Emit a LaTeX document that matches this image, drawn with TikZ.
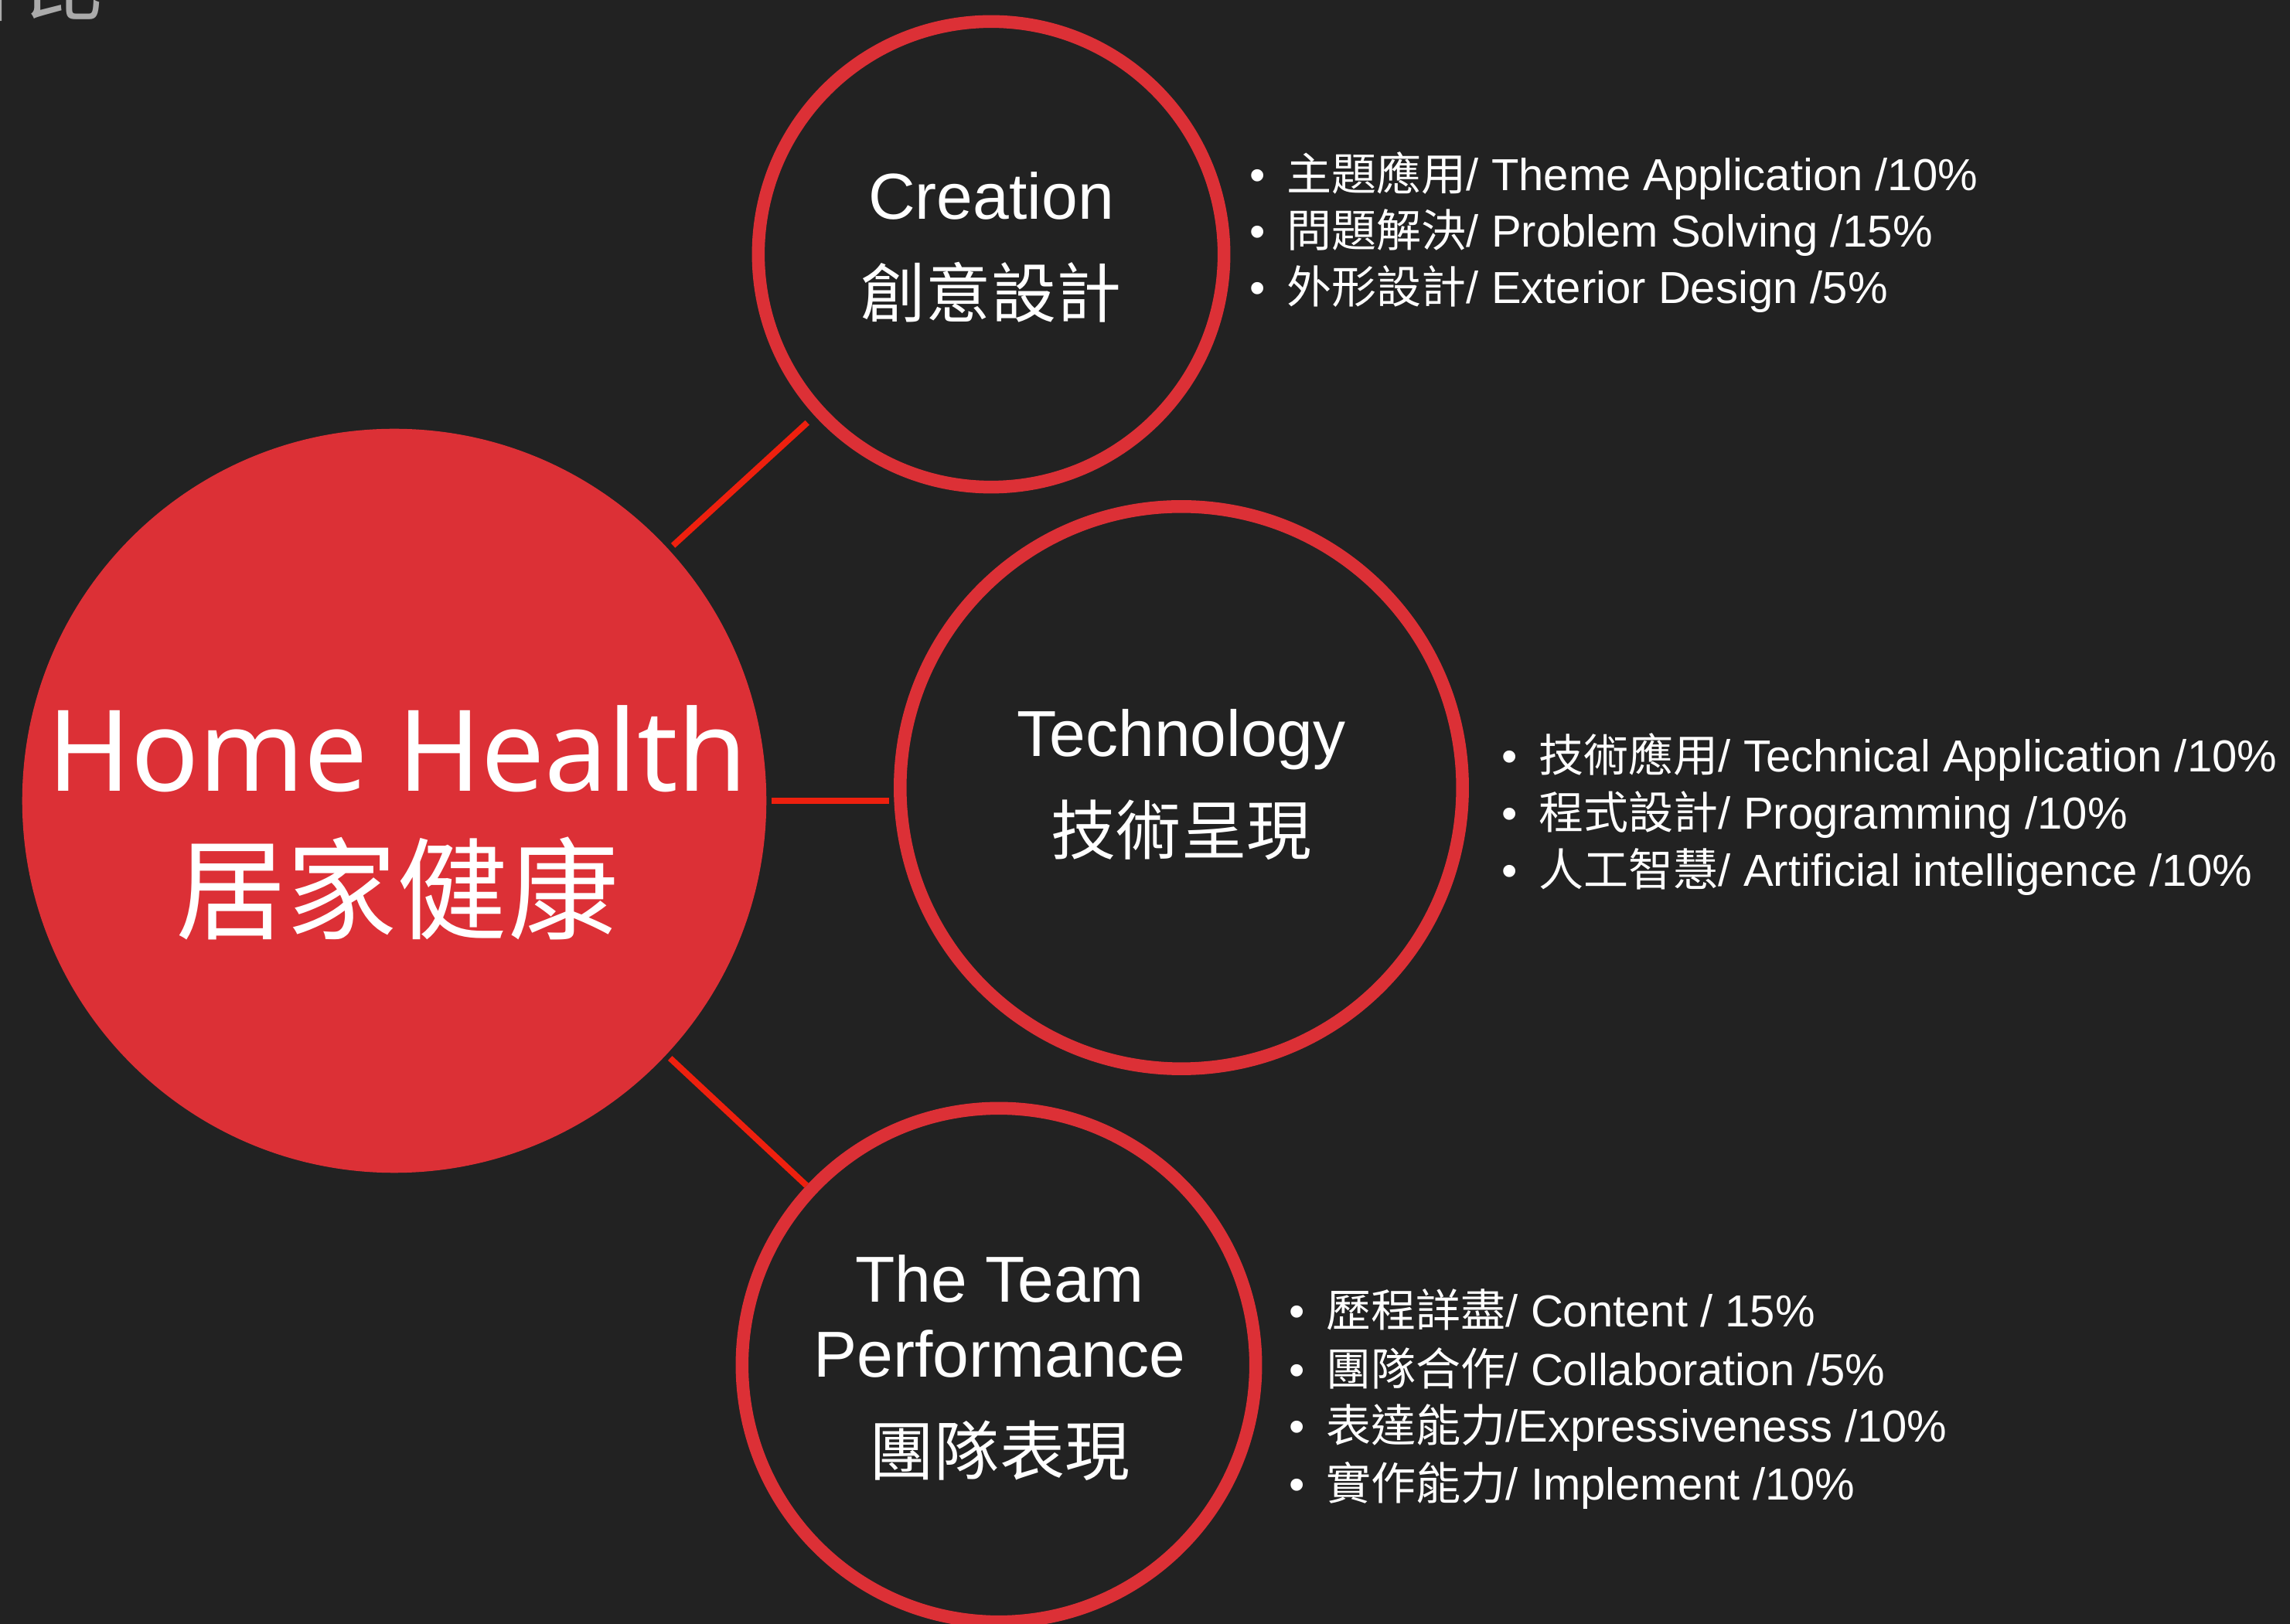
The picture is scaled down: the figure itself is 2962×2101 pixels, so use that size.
\documentclass[tikz,border=0pt]{standalone}
\usepackage{fontspec}
\setmainfont{Liberation Sans}
\newfontfamily\cjk{Noto Sans CJK TC}
\newfontfamily\homefont{Noto Sans}
\definecolor{slidebg}{RGB}{34,34,34}
\definecolor{ringred}{RGB}{220,48,54}
\definecolor{linkred}{RGB}{238,32,14}
\definecolor{titlegray}{RGB}{170,170,170}
\newcommand{\listdot}{\makebox[0.48cm][l]{\textbullet}}

\begin{document}
\begin{tikzpicture}[x=0.01cm, y=-0.01cm,
        ring/.style={circle, draw=ringred, line width=0.165cm, inner sep=0pt},
        link/.style={linkred, line width=0.08cm},
        ringtext/.style={white, align=center, inner sep=0pt, font=\fontsize{23.9}{27.6}\selectfont},
        item/.style={white, anchor=base west, inner sep=0pt, font=\fontsize{16.5}{19}\selectfont}]
    \useasboundingbox (0,0) rectangle (2962,2101);
    \clip (0,0) rectangle (2962,2101);
    \fill[slidebg] (0,0) rectangle (2962,2101);

    \node[titlegray, anchor=base west, inner sep=0pt, font=\cjk\fontsize{29}{30}\selectfont] (title) at (-72,20) {評比};

    \node[circle, fill=ringred, minimum size=9.62cm, inner sep=0pt] (home) at (510,1036) {};
    \node[ring, minimum size=6.02cm] (creation) at (1282,329) {};
    \node[ring, minimum size=7.27cm] (tech) at (1528,1019) {};
    \node[ring, minimum size=6.64cm] (team) at (1292,1766) {};

    \node[white, align=center, inner sep=0pt, font=\homefont\fontsize{41.5}{51.5}\selectfont] (hometext) at (514,1064) {Home Health\\{\cjk\fontsize{40.7}{51.5}\selectfont 居家健康}};
    \node[ringtext] (creationtext) at (1282,320) {Creation\\[0.3cm]{\cjk 創意設計}};
    \node[ringtext] (techtext) at (1528,1015) {Technology\\[0.3cm]{\cjk 技術呈現}};
    \node[ringtext] (teamtext) at (1293,1770) {The Team\\Performance\\[0.3cm]{\cjk 團隊表現}};

    \draw[link, shorten <=0.07cm, shorten >=0.13cm] (home) -- (creation);
    \draw[link, shorten <=0.06cm, shorten >=0.06cm] (home.east) -- (home.east -| tech.west);
    \draw[link, shorten <=0.06cm] (home) -- (team);

    \node[item] (crea1) at (1616,247) {\listdot{\cjk 主題應用}/ Theme Application /10\%};
    \node[item] (crea2) at (1616,320) {\listdot{\cjk 問題解決}/ Problem Solving /15\%};
    \node[item] (crea3) at (1616,393) {\listdot{\cjk 外形設計}/ Exterior Design /5\%};

    \node[item] (tech1) at (1942,999) {\listdot{\cjk 技術應用}/ Technical Application /10\%};
    \node[item] (tech2) at (1942,1073) {\listdot{\cjk 程式設計}/ Programming /10\%};
    \node[item] (tech3) at (1942,1147) {\listdot{\cjk 人工智慧}/ Artificial intelligence /10\%};

    \node[item] (team1) at (1667,1717) {\listdot{\cjk 歷程詳盡}/ Content / 15\%};
    \node[item] (team2) at (1667,1792) {\listdot{\cjk 團隊合作}/ Collaboration /5\%};
    \node[item] (team3) at (1667,1866) {\listdot{\cjk 表達能力}/Expressiveness /10\%};
    \node[item] (team4) at (1667,1940) {\listdot{\cjk 實作能力}/ Implement /10\%};
\end{tikzpicture}
\end{document}
